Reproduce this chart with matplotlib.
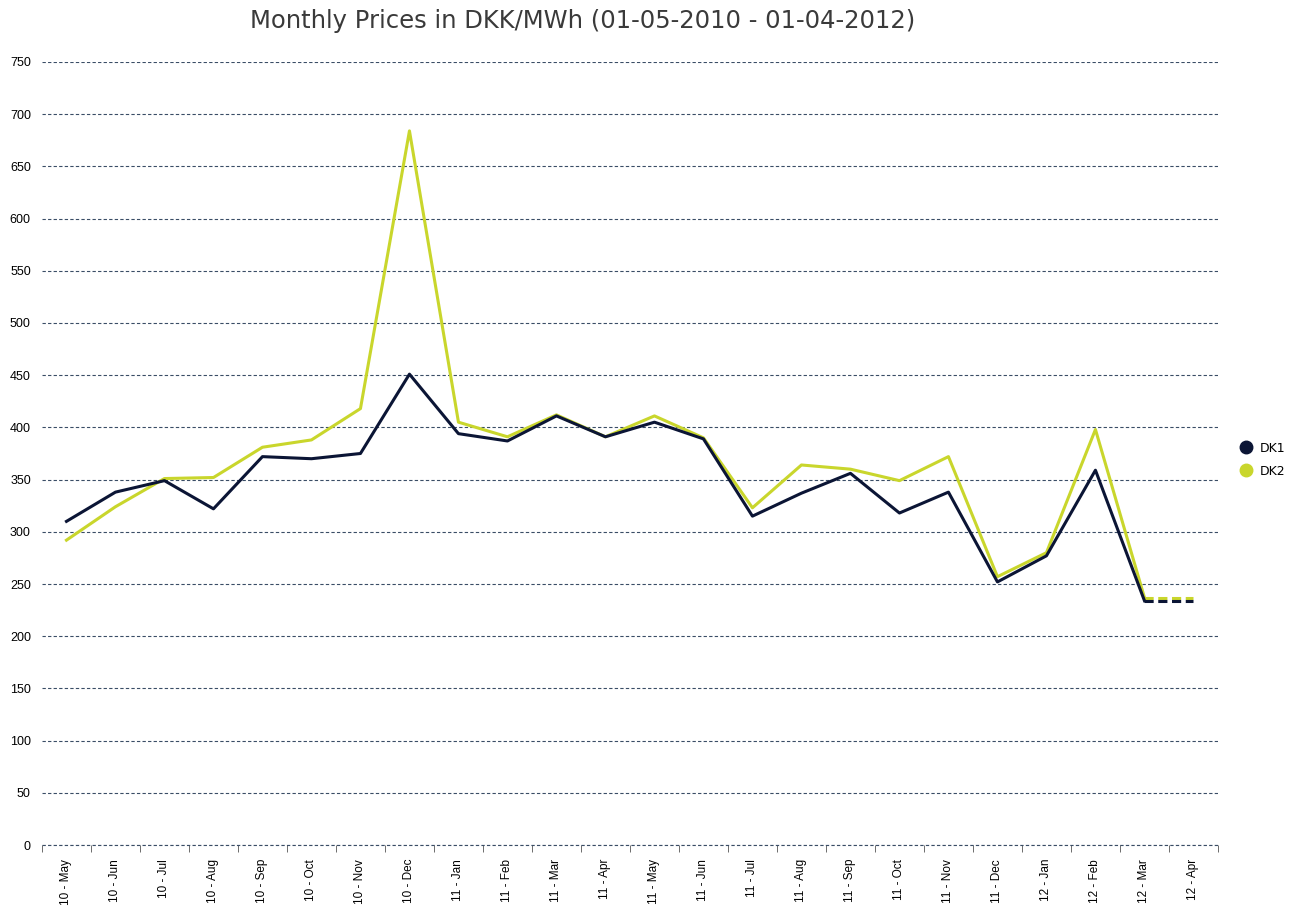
import numpy as np
import matplotlib.pyplot as plt
from matplotlib.lines import Line2D

months = ["10 - May", "10 - Jun", "10 - Jul", "10 - Aug", "10 - Sep", "10 - Oct",
          "10 - Nov", "10 - Dec", "11 - Jan", "11 - Feb", "11 - Mar", "11 - Apr",
          "11 - May", "11 - Jun", "11 - Jul", "11 - Aug", "11 - Sep", "11 - Oct",
          "11 - Nov", "11 - Dec", "12 - Jan", "12 - Feb", "12 - Mar", "12 - Apr"]
dk1 = [310, 338, 349, 322, 372, 370, 375, 451, 394, 387, 411, 391,
       405, 389, 315, 337, 356, 318, 338, 252, 277, 359, 234, 234]
dk2 = [292, 324, 351, 352, 381, 388, 418, 684, 405, 391, 412, 391,
       411, 390, 323, 364, 360, 349, 372, 257, 280, 398, 237, 237]

c1 = "#0b1535"
c2 = "#c9d62c"
grid_c = "#3a4d66"

fig = plt.figure(figsize=(12.95, 9.10), dpi=100)
ax = fig.add_axes([0.0324, 0.0714, 0.9081, 0.8605])

x = np.arange(len(months))
# solid for actual months, dashed for the last (forecast) segment
ax.plot(x[:-1], dk2[:-1], color=c2, lw=2.2, zorder=3)
ax.plot(x[-2:], dk2[-2:], color=c2, lw=2.2, ls=(0, (3, 1.5)), zorder=3)
ax.plot(x[:-1], dk1[:-1], color=c1, lw=2.2, zorder=4)
ax.plot(x[-2:], dk1[-2:], color=c1, lw=2.2, ls=(0, (3, 1.5)), zorder=4)

ax.set_xlim(-0.5, len(months) - 0.5)
ax.set_ylim(0, 750)
ax.set_yticks(np.arange(0, 751, 50))
ax.yaxis.grid(True, color=grid_c, ls=(0, (3, 2)), lw=0.8)
ax.axhline(0, color=grid_c, ls=(0, (3, 2)), lw=0.8, clip_on=False)
ax.set_axisbelow(True)

ax.set_xticks(x)
ax.set_xticklabels(months, rotation=90, fontsize=8.5, family="Liberation Sans")
ax.set_xticks(np.arange(-0.5, len(months), 1), minor=True)
ax.tick_params(axis="x", which="major", length=0, pad=10)
ax.tick_params(axis="x", which="minor", length=5, color="#555555", direction="out")
ax.tick_params(axis="y", length=0, pad=8, labelsize=9)
for lab in ax.get_yticklabels():
    lab.set_family("Liberation Sans")

for s in ax.spines.values():
    s.set_visible(False)

fig.suptitle("Monthly Prices in DKK/MWh (01-05-2010 - 01-04-2012)", x=0.45, y=0.99,
             fontsize=17.5, color="#3a3a3a", family="DejaVu Sans")

handles = [Line2D([], [], marker="o", ls="", color=c1, markersize=9, label="DK1"),
           Line2D([], [], marker="o", ls="", color=c2, markersize=9, label="DK2")]
fig.legend(handles=handles, loc="upper left", bbox_to_anchor=(0.944, 0.527),
           frameon=False, handletextpad=0.1, labelspacing=0.8,
           prop={"family": "DejaVu Sans", "size": 9})

fig.savefig("out.png", dpi=100)
